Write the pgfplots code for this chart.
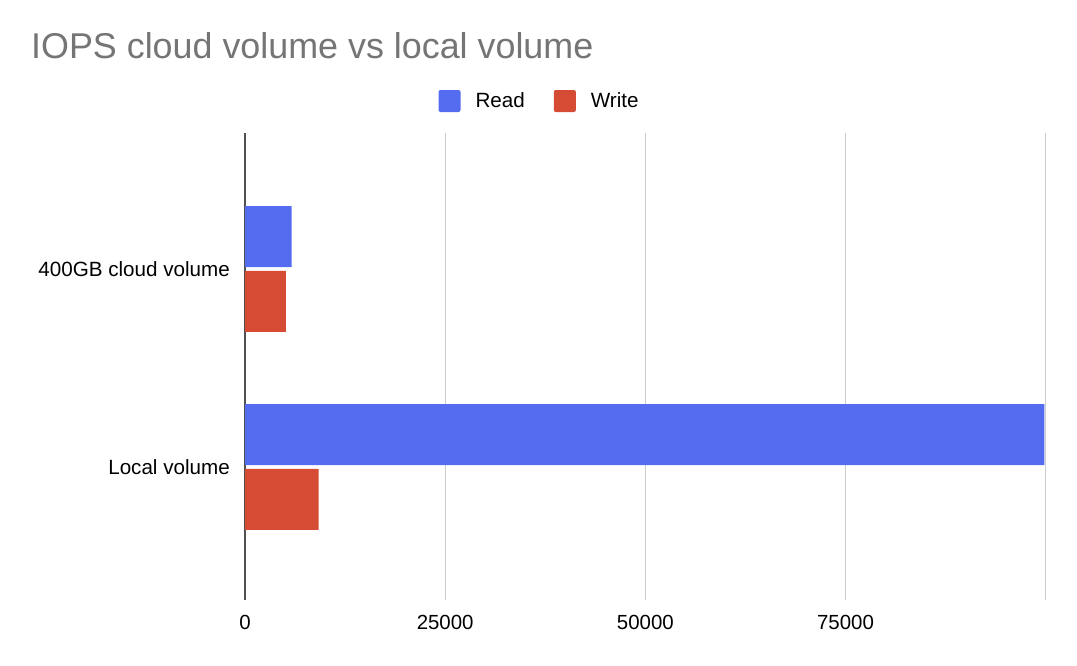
\documentclass[border=0pt]{standalone}
\usepackage{pgfplots}
\pgfplotsset{compat=1.18}
\usepackage{fontspec}
\setmainfont{Liberation Sans}
\definecolor{readblue}{RGB}{84,108,240}
\definecolor{writered}{RGB}{214,75,52}
\definecolor{titlegray}{RGB}{117,117,117}
\definecolor{gridgray}{RGB}{204,204,204}
\definecolor{axisgray}{RGB}{80,80,80}
\begin{document}
\begin{tikzpicture}
\useasboundingbox (0,0) rectangle (1077bp,666bp);
\begin{axis}[
  at={(245bp,66bp)}, anchor=south west,
  scale only axis, width=800.7bp, height=467bp,
  xbar,
  xmin=0, xmax=100000,
  ymin=-0.6717, ymax=1.6869,
  bar width=0.308,
  axis line style={draw=none},
  major tick length=0pt,
  scaled x ticks=false,
  xtick={0,25000,50000,75000,100000},
  xticklabels={0,25000,50000,75000,{}},
  ytick={0,1},
  yticklabels={Local volume,400GB cloud volume},
  xmajorgrids,
  grid style={gridgray, line width=1.3bp},
  extra x ticks={0},
  extra x tick labels={},
  extra x tick style={grid style={axisgray, line width=2bp}},
  xticklabel style={font=\fontsize{20.5}{24}\selectfont, anchor=north, inner sep=0pt, yshift=-15bp, text=black},
  yticklabel style={font=\fontsize{20.7}{24}\selectfont, anchor=east, inner sep=0pt, xshift=-15bp, text=black},
  legend columns=2,
  legend style={at={(0.3666,1.0685)}, anchor=center, draw=none, fill=none,
    font=\fontsize{20.7}{24}\selectfont, inner sep=0pt,
    nodes={inner sep=0pt},
    /tikz/every odd column/.append style={column sep=15bp},
    /tikz/every even column/.append style={column sep=29bp}},
]
\addplot[fill=readblue, draw=none, bar shift=0.164,
  legend image code/.code={\fill[readblue, rounded corners=2bp] (0bp,-11bp) rectangle (22bp,11bp);}]
  coordinates {(99830,0) (5830,1)};
\addlegendentry{Read}
\addplot[fill=writered, draw=none, bar shift=-0.164,
  legend image code/.code={\fill[writered, rounded corners=2bp] (0bp,-11bp) rectangle (22bp,11bp);}]
  coordinates {(9200,0) (5120,1)};
\addlegendentry{Write}
\end{axis}
\node[anchor=base west, inner sep=0pt, text=titlegray, font=\fontsize{36}{42}\selectfont] at (31bp,607bp) {IOPS cloud volume vs local volume};
\end{tikzpicture}
\end{document}
